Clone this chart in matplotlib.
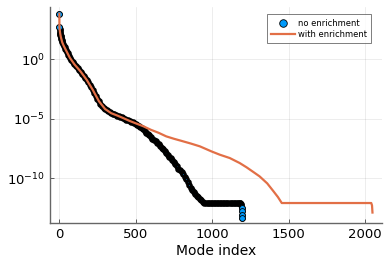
import numpy as np
import matplotlib
matplotlib.use("Agg")
import matplotlib.pyplot as plt

# no enrichment: mode index and log10 of value
no_enr_idx = ([1, 2, 3, 4, 5, 6, 7, 8, 9, 10, 12, 14, 16, 18, 20, 25, 30, 35,
               40, 45, 50, 55, 60, 65, 70]
              + list(range(80, 1181, 10))
              + [1185, 1188, 1190, 1192, 1194, 1195, 1196])
no_enr_log = [3.8, 2.65, 2.5, 2.4, 2.3, 2.2, 2.12, 2.05, 1.97, 1.9, 1.78,
              1.66, 1.56, 1.48, 1.4, 1.25, 1.1, 0.97, 0.85, 0.72, 0.6, 0.47,
              0.35, 0.22, 0.1,
              # 80 .. 1180 every 10
              -0.1, -0.28, -0.45, -0.6, -0.75, -0.9, -1.05, -1.22, -1.4,
              -1.57, -1.75, -1.95, -2.15, -2.37, -2.6, -2.85, -3.1, -3.33,
              -3.55, -3.77, -3.95, -4.1, -4.2, -4.3, -4.4, -4.48, -4.55,
              -4.6, -4.65, -4.7, -4.75, -4.8, -4.85, -4.91, -4.97, -5.03,
              -5.1, -5.16, -5.22, -5.27, -5.32, -5.38, -5.45, -5.52, -5.6,
              -5.7, -5.8, -5.92, -6.05, -6.18, -6.3, -6.42, -6.55, -6.68,
              -6.8, -6.92, -7.05, -7.18, -7.3, -7.45, -7.6, -7.75, -7.9,
              -8.05, -8.2, -8.35, -8.5, -8.68, -8.85, -9.02, -9.2, -9.35,
              -9.5, -9.7, -9.9, -10.12, -10.35, -10.58, -10.8, -11.0, -11.2,
              -11.35, -11.5, -11.62, -11.75, -11.88, -12.0, -12.07,
              -12.1, -12.1, -12.1, -12.1, -12.1, -12.1, -12.1, -12.1, -12.1,
              -12.1, -12.1, -12.1, -12.1, -12.1, -12.1, -12.1, -12.1, -12.1,
              -12.1, -12.1, -12.1, -12.1, -12.1,
              -12.12, -12.15, -12.3, -12.5, -12.8, -13.1, -13.4]

# with enrichment
enr_idx = [1, 2, 4, 6, 10, 20, 30, 50, 70, 100, 140, 180, 220, 260, 300,
           340, 380, 420, 460, 500, 550, 600, 650, 700, 750, 800, 860, 920,
           995, 1050, 1115, 1180, 1225, 1270, 1310, 1360, 1400, 1430, 1455,
           1600, 1800, 2000, 2040, 2045, 2048]
enr_log = [3.8, 2.65, 2.4, 2.2, 1.9, 1.4, 1.1, 0.6, 0.1, -0.45, -1.05, -1.75,
           -2.6, -3.55, -4.2, -4.55, -4.75, -4.97, -5.2, -5.4, -5.65, -5.95,
           -6.2, -6.5, -6.7, -6.88, -7.1, -7.34, -7.76, -8.04, -8.32, -8.74,
           -9.1, -9.5, -9.86, -10.45, -11.1, -11.6, -12.1, -12.1, -12.1,
           -12.1, -12.1, -12.3, -12.9]

x0 = np.array(no_enr_idx)
y0 = 10.0 ** np.array(no_enr_log)

fig = plt.figure(figsize=(3.89, 2.59), dpi=100)
ax = fig.add_axes([0.1285, 0.138, 0.853, 0.835])

# dense part: markers overlap so much that only the black outlines show
ax.plot(x0, y0, 'o', color='#009AFA', mec='black', mew=2.0, ms=2.7,
        zorder=2)
# sparse ends where the blue fill is still visible
ends = (x0 <= 2) | (x0 >= 1192)
ax.plot(x0[ends], y0[ends], 'o', color='#009AFA', mec='black', mew=0.6,
        ms=4.2, label='no enrichment', zorder=2)
ax.plot(enr_idx, 10.0 ** np.array(enr_log), '-', color='#E26F46', lw=1.6,
        label='with enrichment', zorder=3)

ax.set_yscale('log')
ax.set_xlim(-60, 2109)
ax.set_ylim(10 ** -13.8, 10 ** 4.37)
ax.set_xticks([0, 500, 1000, 1500, 2000])
ax.set_yticks([1e0, 1e-5, 1e-10])
ax.set_yticklabels([r'$10^{0}$', r'$10^{-5}$', r'$10^{-10}$'])
ax.yaxis.set_minor_locator(matplotlib.ticker.NullLocator())
ax.tick_params(direction='in', length=3, width=0.6, labelsize=9.5,
               color='#444444')
ax.grid(True, color='black', alpha=0.1, lw=0.5)
for s in ['top', 'right']:
    ax.spines[s].set_visible(False)
for s in ['left', 'bottom']:
    ax.spines[s].set_color('#666666')
    ax.spines[s].set_linewidth(1.0)
ax.set_xlabel('Mode index', fontsize=10, labelpad=2)

leg = ax.legend(loc='upper right', fontsize=6, frameon=True, fancybox=False,
                edgecolor='#444444', borderpad=0.5, handlelength=2.8,
                labelspacing=0.25, handletextpad=0.35, borderaxespad=0,
                bbox_to_anchor=(0.967, 0.966), markerscale=1.3)
leg.get_frame().set_linewidth(0.6)

fig.savefig('out.png', dpi=100)
